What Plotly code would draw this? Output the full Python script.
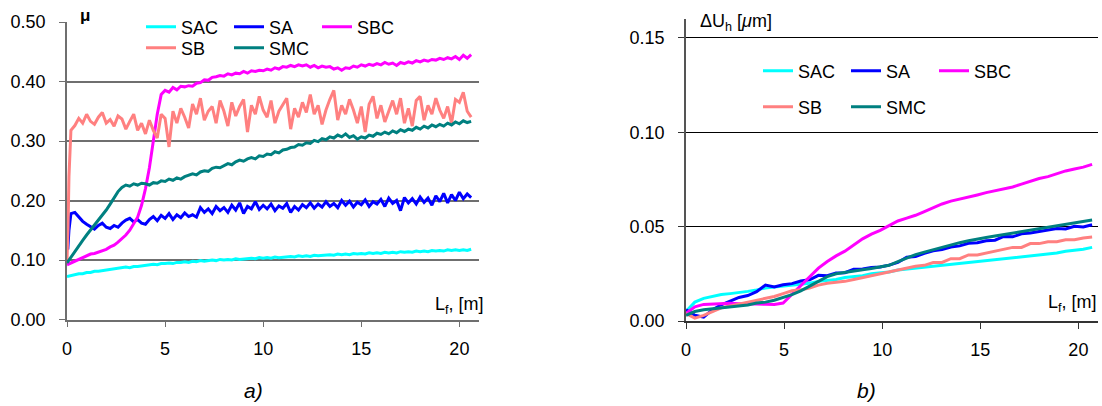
import plotly.graph_objects as go
import numpy as np

# ---------------------------------------------------------------------------
# Sliding distance grids [m]
# ---------------------------------------------------------------------------
LF_FINE = np.round(np.arange(0.0, 20.61, 0.2), 2)      # 104 samples, friction plot
LF_COARSE = np.round(np.arange(0.0, 20.71, 0.45), 2)   # 47 samples, wear plot

# ---------------------------------------------------------------------------
# a) friction coefficient mu vs sliding distance
# ---------------------------------------------------------------------------
mu_sac = [
    0.072, 0.074, 0.075, 0.077, 0.077, 0.079, 0.079, 0.081, 0.081, 0.082,
    0.083, 0.084, 0.084, 0.086, 0.086, 0.088, 0.087, 0.089, 0.089, 0.090,
    0.091, 0.091, 0.093, 0.092, 0.094, 0.094, 0.095, 0.094, 0.096, 0.096,
    0.097, 0.096, 0.098, 0.097, 0.099, 0.098, 0.099, 0.100, 0.099, 0.101,
    0.100, 0.101, 0.100, 0.102, 0.101, 0.102, 0.102, 0.103, 0.102, 0.104,
    0.103, 0.104, 0.103, 0.105, 0.104, 0.105, 0.105, 0.106, 0.105, 0.107,
    0.106, 0.107, 0.106, 0.108, 0.107, 0.108, 0.108, 0.109, 0.108, 0.110,
    0.109, 0.110, 0.109, 0.111, 0.110, 0.111, 0.110, 0.112, 0.111, 0.112,
    0.111, 0.113, 0.112, 0.113, 0.112, 0.114, 0.113, 0.114, 0.113, 0.115,
    0.114, 0.115, 0.114, 0.116, 0.115, 0.116, 0.115, 0.117, 0.116, 0.117,
    0.116, 0.117, 0.116, 0.118,
]

# SA: short running-in spike before the 0.2 m grid starts
mu_sa_head_x = [0.0, 0.04, 0.1, 0.16]
mu_sa_head = [0.120, 0.118, 0.150, 0.172]
mu_sa = [
    0.178, 0.180, 0.172, 0.165, 0.160, 0.156, 0.152, 0.158, 0.162, 0.155,
    0.153, 0.158, 0.155, 0.162, 0.167, 0.170, 0.164, 0.168, 0.162, 0.160,
    0.168, 0.173, 0.166, 0.175, 0.170, 0.178, 0.168, 0.176, 0.171, 0.179,
    0.173, 0.176, 0.172, 0.188, 0.180, 0.186, 0.178, 0.190, 0.183, 0.188,
    0.180, 0.192, 0.184, 0.196, 0.178, 0.190, 0.186, 0.198, 0.185, 0.192,
    0.186, 0.194, 0.183, 0.191, 0.187, 0.195, 0.180, 0.190, 0.184, 0.193,
    0.188, 0.196, 0.187, 0.194, 0.189, 0.198, 0.190, 0.195, 0.188, 0.200,
    0.192, 0.199, 0.189, 0.197, 0.193, 0.201, 0.190, 0.198, 0.194, 0.202,
    0.190, 0.204, 0.195, 0.200, 0.183, 0.205, 0.196, 0.203, 0.194, 0.206,
    0.197, 0.204, 0.192, 0.208, 0.198, 0.212, 0.196, 0.210, 0.200, 0.214,
    0.203, 0.211, 0.205,
]

mu_sbc = [
    0.092, 0.095, 0.098, 0.100, 0.104, 0.107, 0.110, 0.111, 0.113, 0.115,
    0.118, 0.122, 0.125, 0.130, 0.136, 0.142, 0.150, 0.160, 0.172, 0.192,
    0.220, 0.255, 0.300, 0.345, 0.378, 0.385, 0.382, 0.390, 0.386, 0.392,
    0.391, 0.393, 0.392, 0.397, 0.398, 0.403, 0.402, 0.407, 0.408, 0.410,
    0.409, 0.413, 0.411, 0.414, 0.413, 0.417, 0.414, 0.418, 0.417, 0.419,
    0.418, 0.421, 0.419, 0.423, 0.421, 0.425, 0.424, 0.427, 0.425, 0.428,
    0.426, 0.428, 0.424, 0.427, 0.423, 0.426, 0.424, 0.425, 0.421, 0.423,
    0.419, 0.423, 0.422, 0.426, 0.424, 0.428, 0.426, 0.429, 0.427, 0.430,
    0.428, 0.432, 0.429, 0.431, 0.427, 0.432, 0.430, 0.433, 0.431, 0.435,
    0.433, 0.436, 0.434, 0.437, 0.436, 0.439, 0.437, 0.440, 0.438, 0.442,
    0.437, 0.444, 0.439, 0.445,
]

# SB: steep rise in the first 0.2 m, then a noisy plateau
mu_sb_head_x = [0.0, 0.05, 0.1, 0.15]
mu_sb_head = [0.100, 0.150, 0.240, 0.295]
mu_sb = [
    0.318, 0.326, 0.338, 0.330, 0.345, 0.333, 0.328, 0.340, 0.348, 0.330,
    0.336, 0.325, 0.342, 0.337, 0.320, 0.333, 0.345, 0.318, 0.330, 0.312,
    0.335, 0.318, 0.305, 0.345, 0.338, 0.290, 0.350, 0.330, 0.355, 0.340,
    0.322, 0.362, 0.345, 0.372, 0.335, 0.350, 0.358, 0.330, 0.368, 0.350,
    0.325, 0.365, 0.342, 0.358, 0.370, 0.315, 0.360, 0.345, 0.375, 0.352,
    0.340, 0.368, 0.330, 0.350, 0.362, 0.372, 0.320, 0.355, 0.340, 0.365,
    0.348, 0.378, 0.345, 0.360, 0.328, 0.352, 0.370, 0.385, 0.335, 0.360,
    0.345, 0.370, 0.352, 0.330, 0.358, 0.315, 0.362, 0.375, 0.338, 0.360,
    0.332, 0.350, 0.368, 0.345, 0.372, 0.330, 0.355, 0.325, 0.368, 0.375,
    0.335, 0.360, 0.345, 0.372, 0.352, 0.338, 0.358, 0.330, 0.370, 0.365,
    0.382, 0.350, 0.340,
]

mu_smc = [
    0.095, 0.105, 0.115, 0.124, 0.133, 0.142, 0.150, 0.158, 0.166, 0.175,
    0.184, 0.194, 0.205, 0.215, 0.222, 0.226, 0.224, 0.228, 0.226, 0.229,
    0.228, 0.226, 0.230, 0.229, 0.233, 0.232, 0.236, 0.234, 0.238, 0.236,
    0.240, 0.242, 0.245, 0.243, 0.248, 0.250, 0.249, 0.254, 0.256, 0.255,
    0.259, 0.262, 0.260, 0.265, 0.268, 0.266, 0.270, 0.272, 0.270, 0.275,
    0.274, 0.278, 0.277, 0.282, 0.280, 0.285, 0.286, 0.289, 0.290, 0.294,
    0.293, 0.297, 0.296, 0.301, 0.299, 0.304, 0.302, 0.307, 0.305, 0.310,
    0.307, 0.312, 0.306, 0.309, 0.303, 0.307, 0.305, 0.310, 0.308, 0.313,
    0.311, 0.315, 0.312, 0.317, 0.314, 0.319, 0.316, 0.320, 0.318, 0.323,
    0.320, 0.325, 0.322, 0.327, 0.324, 0.328, 0.325, 0.330, 0.327, 0.332,
    0.329, 0.334, 0.331, 0.333,
]

# ---------------------------------------------------------------------------
# b) linear wear dUh [um] vs sliding distance
# ---------------------------------------------------------------------------
du_sac = [
    0.0050, 0.0100, 0.0120, 0.0130, 0.0140, 0.0145, 0.0150, 0.0157, 0.0165, 0.0175,
    0.0180, 0.0185, 0.0190, 0.0195, 0.0200, 0.0210, 0.0215, 0.0220, 0.0230, 0.0235,
    0.0240, 0.0250, 0.0255, 0.0260, 0.0270, 0.0275, 0.0280, 0.0285, 0.0290, 0.0295,
    0.0300, 0.0305, 0.0310, 0.0315, 0.0320, 0.0325, 0.0330, 0.0335, 0.0340, 0.0345,
    0.0350, 0.0355, 0.0360, 0.0370, 0.0375, 0.0380, 0.0390,
]
du_sa = [
    0.0060, 0.0030, 0.0020, 0.0060, 0.0085, 0.0105, 0.0125, 0.0135, 0.0155, 0.0190,
    0.0180, 0.0192, 0.0198, 0.0212, 0.0218, 0.0242, 0.0240, 0.0254, 0.0256, 0.0274,
    0.0276, 0.0284, 0.0286, 0.0296, 0.0310, 0.0338, 0.0342, 0.0358, 0.0372, 0.0378,
    0.0392, 0.0398, 0.0412, 0.0415, 0.0425, 0.0428, 0.0448, 0.0446, 0.0462, 0.0466,
    0.0474, 0.0478, 0.0490, 0.0488, 0.0502, 0.0498, 0.0510,
]
du_sbc = [
    0.0040, 0.0075, 0.0088, 0.0090, 0.0092, 0.0094, 0.0092, 0.0093, 0.0090, 0.0089,
    0.0088, 0.0095, 0.0140, 0.0185, 0.0230, 0.0280, 0.0315, 0.0345, 0.0370, 0.0405,
    0.0435, 0.0460, 0.0480, 0.0505, 0.0530, 0.0545, 0.0560, 0.0580, 0.0600, 0.0620,
    0.0635, 0.0645, 0.0655, 0.0668, 0.0680, 0.0690, 0.0700, 0.0710, 0.0725, 0.0740,
    0.0755, 0.0765, 0.0780, 0.0795, 0.0805, 0.0815, 0.0830,
]
du_sb = [
    0.0040, 0.0015, 0.0030, 0.0050, 0.0070, 0.0080, 0.0090, 0.0100, 0.0110, 0.0120,
    0.0130, 0.0145, 0.0160, 0.0165, 0.0175, 0.0190, 0.0200, 0.0205, 0.0210, 0.0220,
    0.0230, 0.0240, 0.0250, 0.0260, 0.0270, 0.0280, 0.0290, 0.0295, 0.0310, 0.0310,
    0.0330, 0.0330, 0.0350, 0.0350, 0.0360, 0.0370, 0.0380, 0.0390, 0.0390, 0.0410,
    0.0410, 0.0420, 0.0420, 0.0430, 0.0430, 0.0440, 0.0445,
]
du_smc = [
    0.0030, 0.0050, 0.0060, 0.0065, 0.0070, 0.0075, 0.0080, 0.0085, 0.0095, 0.0100,
    0.0110, 0.0125, 0.0140, 0.0160, 0.0185, 0.0210, 0.0235, 0.0250, 0.0258, 0.0265,
    0.0272, 0.0278, 0.0285, 0.0295, 0.0315, 0.0335, 0.0352, 0.0365, 0.0378, 0.0392,
    0.0405, 0.0415, 0.0425, 0.0435, 0.0442, 0.0450, 0.0458, 0.0466, 0.0474, 0.0482,
    0.0490, 0.0498, 0.0506, 0.0514, 0.0522, 0.0528, 0.0535,
]

MU_TICKS = [0.0, 0.1, 0.2, 0.3, 0.4, 0.5]
DU_TICKS = [0.0, 0.05, 0.10, 0.15]
LF_TICKS = [0, 5, 10, 15, 20]

COLORS = {
    "SAC": "#00FFFF",
    "SA": "#0000FF",
    "SBC": "#FF00FF",
    "SB": "#FF8080",
    "SMC": "#008080",
}

FONT = "Liberation Sans, Arial, sans-serif"
W, H = 1102, 406

fig = go.Figure()

# ---- friction traces ------------------------------------------------------
lf = list(LF_FINE)
friction = [
    ("SAC", lf, mu_sac, "legend"),
    ("SA", mu_sa_head_x + lf[1:], mu_sa_head + mu_sa, "legend"),
    ("SBC", lf, mu_sbc, "legend"),
    ("SB", mu_sb_head_x + lf[1:], mu_sb_head + mu_sb, "legend2"),
    ("SMC", lf, mu_smc, "legend2"),
]
for name, xs, ys, leg in friction:
    fig.add_trace(go.Scatter(
        x=xs, y=ys, name=name, mode="lines",
        line=dict(color=COLORS[name], width=3),
        xaxis="x", yaxis="y", legend=leg,
    ))

# ---- wear traces ----------------------------------------------------------
lc = list(LF_COARSE)
wear = [
    ("SAC", du_sac, "legend3"),
    ("SA", du_sa, "legend3"),
    ("SBC", du_sbc, "legend3"),
    ("SB", du_sb, "legend4"),
    ("SMC", du_smc, "legend4"),
]
for name, ys, leg in wear:
    fig.add_trace(go.Scatter(
        x=lc, y=ys, name=name, mode="lines",
        line=dict(color=COLORS[name], width=3),
        xaxis="x2", yaxis="y2", legend=leg,
    ))


def px_x(p):
    return p / W


def px_y(p):
    return 1 - p / H


axis_common = dict(
    showline=True, ticks="outside", ticklen=6,
    tickfont=dict(family=FONT, size=18, color="black"),
    zeroline=False, mirror=False,
)

left_grid = "#6f6f6f"
right_grid = "#000000"

fig.update_layout(
    width=W, height=H,
    margin=dict(l=0, r=0, t=0, b=0, autoexpand=False),
    paper_bgcolor="white", plot_bgcolor="white",
    font=dict(family=FONT, size=18, color="black"),
    xaxis=dict(
        **axis_common, domain=[px_x(67), px_x(479)], range=[0, 21],
        tickvals=LF_TICKS, ticktext=[str(v) for v in LF_TICKS],
        showgrid=False, linecolor=left_grid, linewidth=1.5, tickcolor=left_grid,
        anchor="y", ticklabelstandoff=6,
    ),
    yaxis=dict(
        **axis_common, domain=[px_y(319.5), px_y(22)], range=[0, 0.5],
        tickvals=MU_TICKS, ticktext=[f"{v:.2f}" for v in MU_TICKS],
        showgrid=True, gridcolor=left_grid, gridwidth=1.5,
        linecolor=left_grid, linewidth=1.5, tickcolor=left_grid,
        anchor="x", ticklabelstandoff=10,
    ),
    xaxis2=dict(
        **axis_common, domain=[px_x(686), px_x(1098)], range=[0, 21],
        tickvals=LF_TICKS, ticktext=[str(v) for v in LF_TICKS],
        showgrid=False, linecolor="#333333", linewidth=1.5, tickcolor="#333333",
        anchor="y2", ticklabelstandoff=6,
    ),
    yaxis2=dict(
        **axis_common, domain=[px_y(321), px_y(19)], range=[0, 0.16],
        tickvals=DU_TICKS, ticktext=[f"{v:.2f}" for v in DU_TICKS],
        showgrid=True, gridcolor=right_grid, gridwidth=1,
        linecolor="#555555", linewidth=1.5, tickcolor="#333333",
        anchor="x2", ticklabelstandoff=10,
    ),
    showlegend=True,
)

legend_common = dict(
    orientation="h", xanchor="left", yanchor="middle",
    entrywidthmode="pixels", entrywidth=43, itemwidth=30,
    font=dict(family=FONT, size=18, color="black"),
    borderwidth=0, traceorder="normal",
)
fig.update_layout(
    legend=dict(**legend_common, x=px_x(141), y=px_y(27), bgcolor="white"),
    legend2=dict(**legend_common, x=px_x(141), y=px_y(48), bgcolor="rgba(0,0,0,0)"),
    legend3=dict(**legend_common, x=px_x(758), y=px_y(71), bgcolor="rgba(0,0,0,0)"),
    legend4=dict(**legend_common, x=px_x(758), y=px_y(107), bgcolor="rgba(0,0,0,0)"),
)

annotations = [
    # axis titles
    dict(text="<b>μ</b>", x=px_x(78), y=px_y(15), xanchor="left", yanchor="middle",
         font=dict(size=17)),
    dict(text="ΔU<sub>h</sub> [<i>μ</i>m]", x=px_x(698), y=px_y(22),
         xanchor="left", yanchor="middle", font=dict(size=18)),
    dict(text="L<sub>f</sub>, [m]", x=px_x(486), y=px_y(305), xanchor="right",
         yanchor="middle", font=dict(size=18)),
    dict(text="L<sub>f</sub>, [m]", x=px_x(1099), y=px_y(303), xanchor="right",
         yanchor="middle", font=dict(size=18)),
    # panel labels
    dict(text="<i>a)</i>", x=px_x(253), y=px_y(390), xanchor="center",
         yanchor="middle", font=dict(size=21)),
    dict(text="<i>b)</i>", x=px_x(866), y=px_y(390), xanchor="center",
         yanchor="middle", font=dict(size=21)),
]
for a in annotations:
    a.update(xref="paper", yref="paper", showarrow=False)
fig.update_layout(annotations=annotations)

fig.write_html("out.html")
